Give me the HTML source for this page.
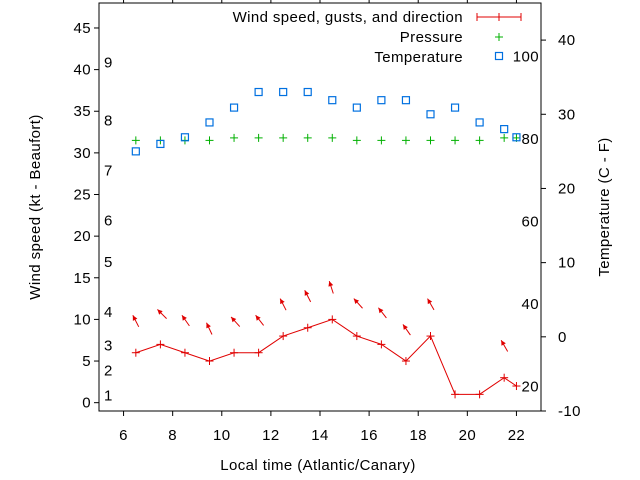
<!DOCTYPE html>
<html><head><meta charset="utf-8"><style>
html,body{margin:0;padding:0;background:#fff;}
svg{display:block;font-family:"Liberation Sans",sans-serif;}
svg text{letter-spacing:0.4px;}
</style></head><body>
<svg id="chart" width="640" height="480" viewBox="0 0 640 480" xmlns="http://www.w3.org/2000/svg"></svg>
<script>
const times=[6.5,7.5,8.5,9.5,10.5,11.5,12.5,13.5,14.5,15.5,16.5,17.5,18.5,19.5,20.5,21.5,22];
const windKt=[6,7,6,5,6,6,8,9,10,8,7,5,8,1,1,3,2];
const gustTimes=[6.5,7.5,8.5,9.5,10.5,11.5,12.5,13.5,14.5,15.5,16.5,17.5,18.5,21.5];
const gustKt=[10.5,11.2,10.5,9.6,10.3,10.5,12.5,13.5,14.6,12.5,11.4,9.4,12.5,7.5];
const dirDeg=[333,315,325,335,318,322,333,333,342,318,322,325,330,330];
const tempC=[25,26,26.9,28.9,30.9,33,33,33,31.9,30.9,31.9,31.9,30,30.9,28.9,28,26.9];
const pressure=[31.5,31.5,31.5,31.5,31.8,31.8,31.8,31.8,31.8,31.5,31.5,31.5,31.5,31.5,31.5,31.8,31.8];
const xTicks=[6,8,10,12,14,16,18,20,22];
const yTicks=[0,5,10,15,20,25,30,35,40,45];
const y2Ticks=[-10,0,10,20,30,40];
const beaufort=[1,2,3,4,5,6,7,8,9];
const beaufortKt=[1,4,7,11,17,22,28,34,41];
const fahr=[20,40,60,80,100];

const L=99,R=541,T=3,B=411;
const FS=15;
const xs=t=>L+(t-5)*(R-L)/18;
const ys=v=>B-(v+1)*(B-T)/49;
const y2s=c=>B-(c+10)*(B-T)/55;
const svg=document.getElementById('chart');
const NS='http://www.w3.org/2000/svg';
function mk(tag,attrs,text){const e=document.createElementNS(NS,tag);for(const k in attrs)e.setAttribute(k,attrs[k]);if(text!==undefined)e.textContent=text;svg.appendChild(e);return e;}

let e;
e=mk('rect',{x:L,y:T,width:R-L,height:B-T,fill:'none',stroke:'#000','stroke-width':1});


xTicks.forEach(t=>{
  mk('line',{x1:xs(t),x2:xs(t),y1:B,y2:B+5,stroke:'#000'});
  mk('line',{x1:xs(t),x2:xs(t),y1:T,y2:T-5,stroke:'#000'});
  e=mk('text',{x:xs(t),y:440,'font-size':FS,'text-anchor':'middle'},String(t));
  
  
});
yTicks.forEach(v=>{
  mk('line',{x1:L,x2:L-5,y1:ys(v),y2:ys(v),stroke:'#000'});
  e=mk('text',{x:L-8,y:ys(v)+5,'font-size':FS,'text-anchor':'end'},String(v));
  
  
});
y2Ticks.forEach(v=>{
  mk('line',{x1:R,x2:R+5,y1:y2s(v),y2:y2s(v),stroke:'#000'});
  e=mk('text',{x:558,y:y2s(v)+5,'font-size':FS},String(v));
  
  
});
beaufort.forEach((b,i)=>{
  e=mk('text',{x:104,y:ys(beaufortKt[i])+6,'font-size':FS},String(b));
  
  
});
fahr.forEach(f=>{
  e=mk('text',{x:539,y:y2s((f-32)*5/9)+5,'font-size':FS,'text-anchor':'end'},String(f));
  
  
});
e=mk('text',{x:318,y:470,'font-size':FS,'text-anchor':'middle'},'Local time (Atlantic/Canary)');


e=mk('text',{x:0,y:0,'font-size':FS,'text-anchor':'middle',transform:'translate(40,207) rotate(-90)'},'Wind speed (kt - Beaufort)');


e=mk('text',{x:0,y:0,'font-size':FS,'text-anchor':'middle',transform:'translate(609,207) rotate(-90)'},'Temperature (C - F)');



function plus(x,y,c){mk('line',{x1:x-4,x2:x+4,y1:y,y2:y,stroke:c});mk('line',{x1:x,x2:x,y1:y-4,y2:y+4,stroke:c});}
pressure.forEach((p,i)=>{plus(xs(times[i]),ys(p),'#00b000');});
tempC.forEach((c,i)=>{
  e=mk('rect',{x:xs(times[i])-3.5,y:y2s(c)-3.5,width:7,height:7,fill:'none',stroke:'#0070e0','stroke-width':1.2});
  
  
});
e=mk('polyline',{points:times.map((t,i)=>xs(t)+','+ys(windKt[i])).join(' '),fill:'none',stroke:'#e00000','stroke-width':1});


windKt.forEach((w,i)=>plus(xs(times[i]),ys(w),'#e00000'));
gustKt.forEach((g,i)=>{
  const hx=xs(gustTimes[i])-3,hy=ys(g);
  const a=dirDeg[i]*Math.PI/180,len=13;
  const dx=Math.sin(a),dy=-Math.cos(a);
  const tx=hx-dx*len,ty=hy-dy*len;
  e=mk('line',{x1:tx,y1:ty,x2:hx,y2:hy,stroke:'#e00000','stroke-width':1});
  
  
  const px=-dy,py=dx;
  const bx=hx-dx*5,by=hy-dy*5;
  mk('polygon',{points:`${hx},${hy} ${bx+px*2.5},${by+py*2.5} ${bx-px*2.5},${by-py*2.5}`,fill:'#e00000'});
});
e=mk('text',{x:463,y:22,'font-size':FS,'text-anchor':'end'},'Wind speed, gusts, and direction');


mk('line',{x1:477,x2:521,y1:17,y2:17,stroke:'#e00000'});
mk('line',{x1:477,x2:477,y1:13,y2:21,stroke:'#e00000'});
mk('line',{x1:521,x2:521,y1:13,y2:21,stroke:'#e00000'});
mk('line',{x1:499,x2:499,y1:13,y2:21,stroke:'#e00000'});
e=mk('text',{x:463,y:42,'font-size':FS,'text-anchor':'end'},'Pressure');


plus(499,37,'#00b000');
e=mk('text',{x:463,y:62,'font-size':FS,'text-anchor':'end'},'Temperature');


mk('rect',{x:495.5,y:52.5,width:7,height:7,fill:'none',stroke:'#0070e0','stroke-width':1.2});
</script>
</body></html>
